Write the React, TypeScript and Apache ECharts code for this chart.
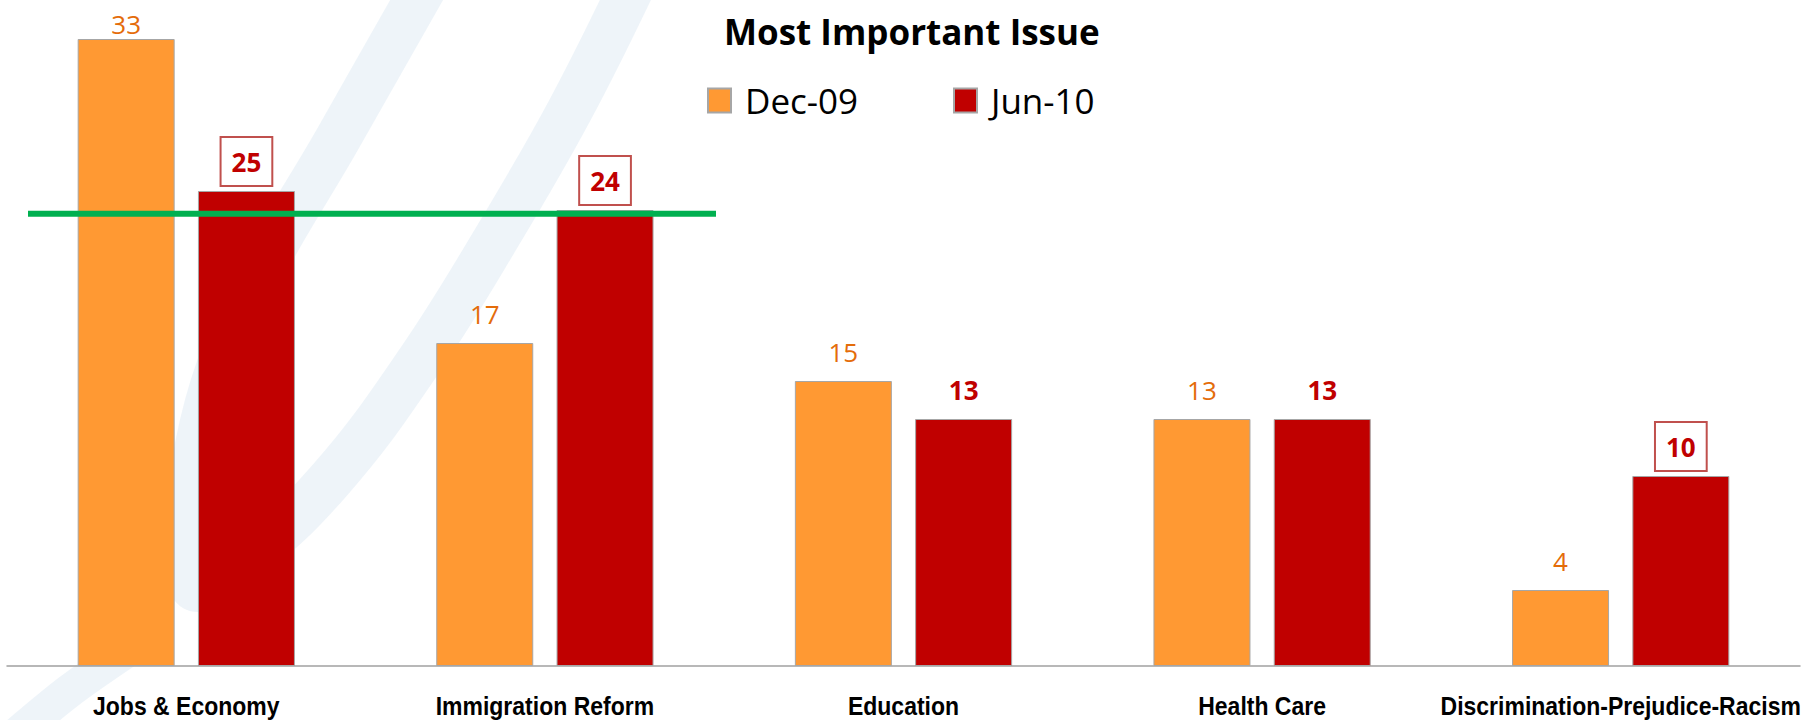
import React, { useEffect, useRef } from "react";
import * as echarts from "echarts";

const categories = [
  "Jobs & Economy",
  "Immigration Reform",
  "Education",
  "Health Care",
  "Discrimination-Prejudice-Racism",
];
const dec09 = [33, 17, 15, 13, 4];
const jun10 = [25, 24, 13, 13, 10];
const jun10Highlighted = [true, true, false, false, true];
const seriesNames = ["Dec-09", "Jun-10"];
const referenceLevel = 23.8;
const titleText = "Most Important Issue";

const ORANGE = "#FF9933";
const RED = "#C00000";
const FONT = "'Open Sans', 'Noto Sans', sans-serif";
const AXIS_FONT = "'Liberation Sans', Arial, sans-serif";

const LABEL_BOX_H = 47;
const LABEL_GAP = 6;

export default function App() {
  const ref = useRef<HTMLDivElement>(null);

  useEffect(() => {
    if (!ref.current) return;
    const chart = echarts.init(ref.current, null, { renderer: "svg" });

    const swirlColor = "rgba(200, 218, 236, 0.30)";
    const swirl: any[] = [
      {
        id: "swirlLoop",
        type: "polyline",
        silent: true,
        z: 0,
        shape: {
          points: [
            [428, -20],
            [340, 135],
            [250, 295],
            [198, 445],
            [192, 585],
            [245, 560],
            [330, 480],
            [420, 360],
            [500, 232],
            [570, 110],
            [635, -20],
          ],
          smooth: 0.4,
        },
        style: { stroke: swirlColor, lineWidth: 46, fill: null, lineCap: "round" },
      },
      {
        id: "swirlTail",
        type: "polyline",
        silent: true,
        z: 0,
        shape: { points: [[10, 740], [68, 692], [125, 652]], smooth: 0.3 },
        style: { stroke: swirlColor, lineWidth: 34, fill: null },
      },
    ];

    const baseLabel = {
      show: true,
      position: "top",
      distance: LABEL_GAP,
      padding: [9, 10],
      lineHeight: 29,
      fontFamily: FONT,
      fontSize: 26,
    };

    const buildOption = (decData: any[], junData: any[]) => ({
      animation: false,
      backgroundColor: "#FFFFFF",
      title: {
        text: titleText,
        left: 719,
        top: 9,
        textStyle: { fontFamily: FONT, fontSize: 35, fontWeight: "bold", color: "#000" },
      },
      legend: {
        data: seriesNames,
        left: 702,
        top: 78,
        icon: "rect",
        itemWidth: 23,
        itemHeight: 24,
        itemGap: 93,
        textStyle: {
          fontFamily: FONT,
          fontSize: 35,
          color: "#000",
          width: 115,
          padding: [0, 0, 0, 9],
          lineHeight: 30,
        },
      },
      grid: { left: 7, right: 3, top: 1, bottom: 54, containLabel: false, outerBoundsMode: "none" },
      xAxis: {
        type: "category",
        data: categories,
        axisLine: { show: true, lineStyle: { color: "#A0A0A0", width: 1.5 } },
        axisTick: { show: false },
        axisLabel: { show: false },
      },
      yAxis: {
        type: "value",
        min: 0,
        max: 35,
        show: false,
        splitLine: { show: false },
      },
      graphic: swirl,
      series: [
        {
          name: seriesNames[0],
          type: "bar",
          data: decData,
          barWidth: 97,
          barGap: "24%",
          itemStyle: { color: ORANGE, borderColor: "#A6A6A6", borderWidth: 1 },
          label: { ...baseLabel, color: "#E46C0A" },
        },
        {
          name: seriesNames[1],
          type: "bar",
          data: junData,
          barWidth: 97,
          barGap: "24%",
          itemStyle: { color: RED, borderColor: "#A6A6A6", borderWidth: 1 },
          label: { ...baseLabel, fontWeight: "bold", color: RED },
        },
      ],
    });

    const junItems = (clampFn: (v: number) => number | undefined) =>
      jun10.map((v, i) => ({
        value: v,
        label: {
          ...(jun10Highlighted[i]
            ? { borderWidth: 2, borderColor: "#C0504D", backgroundColor: "#FFFFFF" }
            : { borderWidth: 0, backgroundColor: "transparent" }),
          ...(clampFn(v) != null ? { distance: clampFn(v) } : {}),
        },
      }));

    chart.setOption(buildOption(dec09, junItems(() => undefined)));

    // keep value labels inside the drawing area (as the original does for the tallest bar)
    const clamp = (v: number) => {
      const top = chart.convertToPixel({ yAxisIndex: 0 }, v) as number;
      const room = top - LABEL_BOX_H;
      return room < LABEL_GAP ? room : undefined;
    };
    const decItems = dec09.map((v) => {
      const d = clamp(v);
      return d != null ? { value: v, label: { distance: d } } : v;
    });

    const yRef = chart.convertToPixel({ yAxisIndex: 0 }, referenceLevel) as number;
    const yBase = chart.convertToPixel({ yAxisIndex: 0 }, 0) as number;
    const catLabels = categories.map((c, i) => ({
      id: "cat" + i,
      type: "text",
      silent: true,
      z: 50,
      x: chart.convertToPixel({ xAxisIndex: 0 }, c) as number,
      y: yBase + 40.5,
      scaleX: 0.92,
      style: {
        text: c,
        fontFamily: AXIS_FONT,
        fontWeight: "bold",
        fontSize: 25,
        fill: "#000",
        align: "center",
        verticalAlign: "middle",
      },
    }));

    const opt: any = buildOption(decItems, junItems(clamp));
    opt.graphic = [
      ...swirl,
      ...catLabels,
      {
        id: "refLine",
        type: "line",
        silent: true,
        z: 100,
        shape: { x1: 28, y1: yRef, x2: 716, y2: yRef },
        style: { stroke: "#00B050", lineWidth: 6 },
      },
    ];
    chart.setOption(opt);

    return () => chart.dispose();
  }, []);

  return (
    <div
      ref={ref}
      style={{ position: "absolute", left: 0, top: 0, width: 1803, height: 720, background: "#fff" }}
    />
  );
}
